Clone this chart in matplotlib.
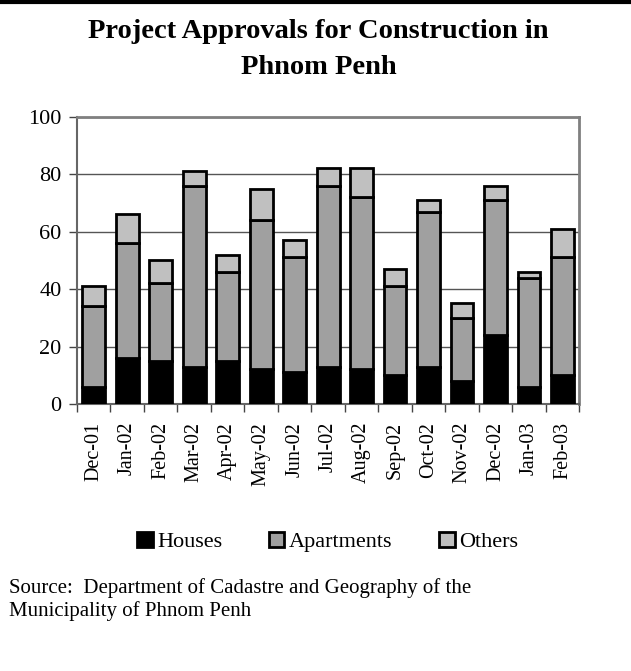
import matplotlib
matplotlib.use('Agg')
import matplotlib.pyplot as plt
from matplotlib.lines import Line2D
import numpy as np

plt.rcParams['font.family'] = ['Liberation Serif', 'DejaVu Serif']

months = ['Dec-01', 'Jan-02', 'Feb-02', 'Mar-02', 'Apr-02', 'May-02', 'Jun-02', 'Jul-02',
          'Aug-02', 'Sep-02', 'Oct-02', 'Nov-02', 'Dec-02', 'Jan-03', 'Feb-03']
houses = [6, 16, 15, 13, 15, 12, 11, 13, 12, 10, 13, 8, 24, 6, 10]
apartments = [28, 40, 27, 63, 31, 52, 40, 63, 60, 31, 54, 22, 47, 38, 41]
others = [7, 10, 8, 5, 6, 11, 6, 6, 10, 6, 4, 5, 5, 2, 10]

fig = plt.figure(figsize=(6.31, 6.71), dpi=100)
ax = fig.add_axes([0.122, 0.398, 0.796, 0.428])

x = np.arange(len(months))
h = np.array(houses)
a = np.array(apartments)
o = np.array(others)
w = 0.68
ax.bar(x, h, w, color='black', edgecolor='black', linewidth=2, label='Houses', zorder=3)
ax.bar(x, a, w, bottom=h, color='#a0a0a0', edgecolor='black', linewidth=2, label='Apartments', zorder=3)
ax.bar(x, o, w, bottom=h + a, color='#c0c0c0', edgecolor='black', linewidth=2, label='Others', zorder=3)

ax.set_xlim(-0.5, len(months) - 0.5)
ax.set_ylim(0, 100)
ax.set_yticks([0, 20, 40, 60, 80, 100])
ax.yaxis.grid(True, color='#555555', linewidth=1)
ax.set_axisbelow(True)

ax.set_xticks(x)
ax.set_xticklabels(months, rotation=90, fontsize=14.5)
ax.tick_params(axis='x', length=0, pad=13)
ax.set_xticks(np.arange(-0.5, len(months)), minor=True)
ax.tick_params(axis='x', which='minor', length=6, width=1, color='#444444', direction='out')
ax.tick_params(axis='y', labelsize=16, length=6, width=1, color='#444444', pad=5)

for s in ['top', 'right']:
    ax.spines[s].set_color('#808080')
    ax.spines[s].set_linewidth(2)
ax.spines['left'].set_color('#666666')
ax.spines['left'].set_linewidth(1.5)
ax.spines['bottom'].set_color('#666666')
ax.spines['bottom'].set_linewidth(1.5)

fig.text(0.505, 0.953, 'Project Approvals for Construction in', ha='center', va='center',
         fontsize=20.5, fontweight='bold')
fig.text(0.505, 0.899, 'Phnom Penh', ha='center', va='center', fontsize=20.5, fontweight='bold')

fig.add_artist(Line2D([0, 1], [0.9965, 0.9965], color='black', linewidth=3, transform=fig.transFigure))

fig.legend(loc='center', bbox_to_anchor=(0.519, 0.192), ncol=3, frameon=False, fontsize=16,
           handlelength=0.7, handleheight=0.7, handletextpad=0.2, columnspacing=2.1)

fig.text(0.014, 0.123, 'Source:  Department of Cadastre and Geography of the', fontsize=15, va='center')
fig.text(0.014, 0.089, 'Municipality of Phnom Penh', fontsize=15, va='center')

fig.savefig('out.png', dpi=100)
